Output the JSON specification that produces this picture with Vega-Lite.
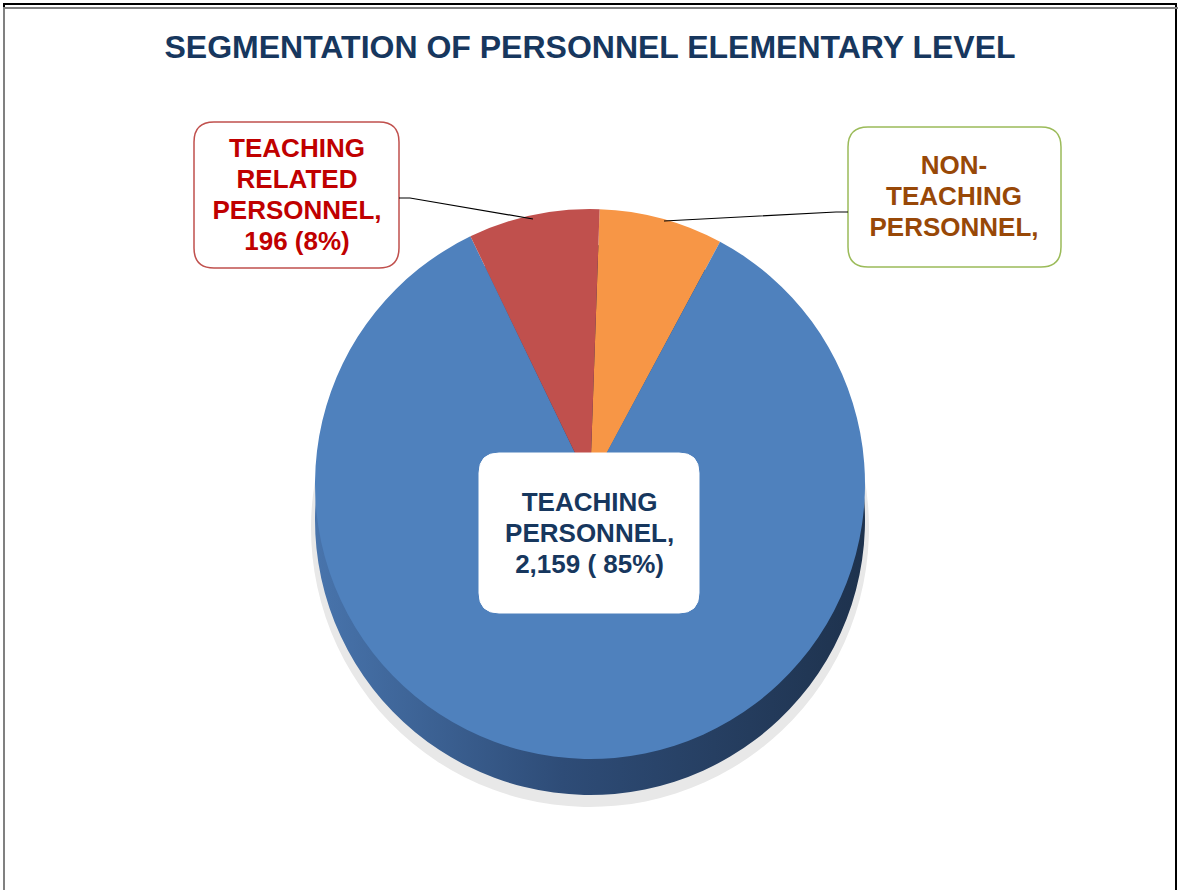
{
  "$schema": "https://vega.github.io/schema/vega-lite/v6.json",
  "width": 1172,
  "height": 960,
  "padding": {"left": 3, "top": 3, "right": 3, "bottom": 0},
  "autosize": {"type": "pad"},
  "background": "#ffffff",
  "title": {
    "text": "SEGMENTATION OF PERSONNEL ELEMENTARY LEVEL",
    "font": "Liberation Sans",
    "fontSize": 32,
    "fontWeight": "bold",
    "color": "#17375E",
    "anchor": "middle",
    "frame": "group",
    "baseline": "alphabetic",
    "offset": -87
  },
  "config": {"view": {"stroke": "#000000", "strokeWidth": 2}},
  "data": {
    "values": [
      {"category": "Non-Teaching Personnel", "value": 185, "order": 1, "label": "NON-\nTEACHING\nPERSONNEL,"},
      {"category": "Teaching Personnel", "value": 2159, "order": 2, "label": "TEACHING\nPERSONNEL,\n2,159 ( 85%)"},
      {"category": "Teaching Related Personnel", "value": 196, "order": 3, "label": "TEACHING\nRELATED\nPERSONNEL,\n196 (8%)"}
    ]
  },
  "layer": [
    {
      "transform": [{"aggregate": [{"op": "count", "as": "n"}]}],
      "mark": {"type": "rect", "filled": false, "stroke": "#000000", "strokeWidth": 2}
    },
    {
      "transform": [{"aggregate": [{"op": "count", "as": "n"}]}],
      "mark": {"type": "rect", "filled": false, "stroke": "#808080", "strokeWidth": 2, "xOffset": 4, "x2Offset": -4, "yOffset": 4, "y2Offset": -4}
    },
    {
      "mark": {"type": "arc", "radius": 279, "fill": "#e8e8e8", "yOffset": 44},
      "encoding": {
        "theta": {"field": "value", "type": "quantitative", "stack": true, "scale": {"range": [0.035, 6.3182]}},
        "order": {"field": "order", "type": "quantitative"}
      }
    },
    {
      "mark": {
        "type": "arc",
        "radius": 275,
        "yOffset": 36,
        "fill": {
          "gradient": "linear",
          "x1": 0, "y1": 0, "x2": 1, "y2": 0,
          "stops": [
            {"offset": 0, "color": "#4874AC"},
            {"offset": 0.45, "color": "#2E4C77"},
            {"offset": 1, "color": "#1E324D"}
          ]
        }
      },
      "encoding": {
        "theta": {"field": "value", "type": "quantitative", "stack": true},
        "order": {"field": "order", "type": "quantitative"}
      }
    },
    {
      "mark": {"type": "arc", "radius": 275},
      "encoding": {
        "theta": {"field": "value", "type": "quantitative", "stack": true},
        "order": {"field": "order", "type": "quantitative"},
        "color": {
          "field": "category",
          "type": "nominal",
          "scale": {
            "domain": ["Non-Teaching Personnel", "Teaching Personnel", "Teaching Related Personnel"],
            "range": ["#F79646", "#4F81BD", "#C0504D"]
          },
          "legend": null
        }
      }
    },
    {
      "transform": [{"filter": "datum.category === 'Teaching Personnel'"}],
      "mark": {
        "type": "point",
        "shape": "M -0.9,-0.8 L 0.9,-0.8 Q 1.1,-0.8 1.1,-0.6 L 1.1,0.6 Q 1.1,0.8 0.9,0.8 L -0.9,0.8 Q -1.1,0.8 -1.1,0.6 L -1.1,-0.6 Q -1.1,-0.8 -0.9,-0.8 Z",
        "size": 40000,
        "filled": true,
        "fill": "#ffffff",
        "stroke": "#ffffff",
        "strokeWidth": 1,
        "opacity": 1,
        "xOffset": -1,
        "yOffset": 49
      }
    },
    {
      "mark": {
        "type": "text",
        "radius": 19,
        "font": "Liberation Sans",
        "fontSize": 26,
        "fontWeight": "bold",
        "lineBreak": "\n",
        "lineHeight": 31,
        "align": "center",
        "baseline": "middle",
        "fill": "#17375E"
      },
      "encoding": {
        "theta": {"field": "value", "type": "quantitative", "stack": true},
        "order": {"field": "order", "type": "quantitative"},
        "text": {"field": "label", "type": "nominal"},
        "opacity": {"condition": {"test": "datum.category === 'Teaching Personnel'", "value": 1}, "value": 0}
      }
    },
    {
      "transform": [{"filter": "datum.category === 'Teaching Related Personnel'"}],
      "mark": {
        "type": "point",
        "shape": "M -0.825,-0.73 L 0.825,-0.73 Q 1.025,-0.73 1.025,-0.53 L 1.025,0.53 Q 1.025,0.73 0.825,0.73 L -0.825,0.73 Q -1.025,0.73 -1.025,0.53 L -1.025,-0.53 Q -1.025,-0.73 -0.825,-0.73 Z",
        "size": 40000,
        "filled": true,
        "fill": "#ffffff",
        "stroke": "#C0504D",
        "strokeWidth": 1.5,
        "opacity": 1,
        "xOffset": -293.5,
        "yOffset": -289
      }
    },
    {
      "transform": [{"filter": "datum.category === 'Teaching Related Personnel'"}],
      "mark": {
        "type": "text",
        "font": "Liberation Sans",
        "fontSize": 26,
        "fontWeight": "bold",
        "lineBreak": "\n",
        "lineHeight": 31,
        "align": "center",
        "baseline": "middle",
        "fill": "#C00000",
        "dx": -293,
        "dy": -335
      },
      "encoding": {"text": {"field": "label", "type": "nominal"}}
    },
    {
      "transform": [{"filter": "datum.category === 'Non-Teaching Personnel'"}],
      "mark": {
        "type": "point",
        "shape": "M -0.865,-0.7 L 0.865,-0.7 Q 1.065,-0.7 1.065,-0.5 L 1.065,0.5 Q 1.065,0.7 0.865,0.7 L -0.865,0.7 Q -1.065,0.7 -1.065,0.5 L -1.065,-0.5 Q -1.065,-0.7 -0.865,-0.7 Z",
        "size": 40000,
        "filled": true,
        "fill": "#ffffff",
        "stroke": "#9BBB59",
        "strokeWidth": 1.5,
        "opacity": 1,
        "xOffset": 364.5,
        "yOffset": -287
      }
    },
    {
      "transform": [{"filter": "datum.category === 'Non-Teaching Personnel'"}],
      "mark": {
        "type": "text",
        "font": "Liberation Sans",
        "fontSize": 26,
        "fontWeight": "bold",
        "lineBreak": "\n",
        "lineHeight": 31,
        "align": "center",
        "baseline": "middle",
        "fill": "#984807",
        "dx": 364,
        "dy": -318
      },
      "encoding": {"text": {"field": "label", "type": "nominal"}}
    },
    {
      "transform": [{"filter": "datum.category === 'Teaching Related Personnel'"}],
      "mark": {
        "type": "point",
        "shape": "M 0,0 L 0.11,0 L 1.34,0.21",
        "size": 40000,
        "filled": false,
        "stroke": "#000000",
        "strokeWidth": 1.2,
        "opacity": 1,
        "xOffset": -191,
        "yOffset": -286
      }
    },
    {
      "transform": [{"filter": "datum.category === 'Non-Teaching Personnel'"}],
      "mark": {
        "type": "point",
        "shape": "M 0,0 L -0.12,0 L -1.84,0.09",
        "size": 40000,
        "filled": false,
        "stroke": "#000000",
        "strokeWidth": 1.2,
        "opacity": 1,
        "xOffset": 258,
        "yOffset": -272
      }
    }
  ]
}
